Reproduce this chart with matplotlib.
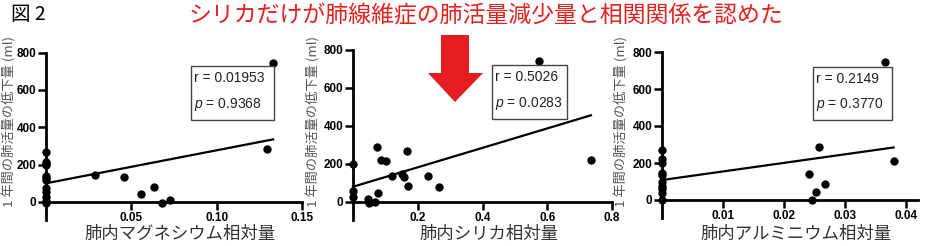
import matplotlib.pyplot as plt
from matplotlib.patches import Rectangle, Polygon

plt.rcParams['font.family'] = ['Liberation Sans', 'Noto Sans CJK JP']
plt.rcParams['mathtext.fontset'] = 'custom'
plt.rcParams['mathtext.rm'] = 'Liberation Sans'
plt.rcParams['mathtext.it'] = 'Liberation Sans:italic'

# data
mg_x = [0, 0, 0, 0, 0, 0, 0, 0, 0, 0, 0, 0,
        0.0285, 0.0455, 0.0556, 0.063, 0.0682, 0.0727, 0.1297, 0.1331]
mg_y = [265, 212, 205, 196, 138, 128, 118, 75, 55, 25, 8, -5,
        144, 135, 43, 82, -3, 11, 285, 745]
mg_fit = [100, 1767]   # intercept, slope

si_x = [0, 0, 0, 0.0475, 0.0506, 0.068, 0.0734, 0.0766, 0.0868, 0.102,
        0.121, 0.151, 0.158, 0.168, 0.170, 0.233, 0.267, 0.573, 0.735]
si_y = [199, 59, 28, 14, -7, 2, 286, 45, 220, 216,
        138, 145, 129, 267, 85, 138, 77, 742, 220]
si_fit = [80, 510]

al_x = [0, 0, 0, 0, 0, 0, 0, 0, 0, 0,
        0.0241, 0.0246, 0.0252, 0.0257, 0.0268, 0.0366, 0.0380]
al_y = [270, 220, 198, 144, 133, 97, 78, 60, 38, 0,
        139, 0, 45, 288, 86, 746, 212]
al_fit = [108, 4630]

mg_stats = ['r = 0.01953', '$p$ = 0.9368']
si_stats = ['r = 0.5026', '$p$ = 0.0283']
al_stats = ['r = 0.2149', '$p$ = 0.3770']

yticks = [0, 200, 400, 600, 800]
ylabel = '1 年間の肺活量の低下量 (ml)'
title = 'シリカだけが肺線維症の肺活量減少量と相関関係を認めた'

W, H = 931, 246
fig = plt.figure(figsize=(9.31, 2.46), dpi=100)


def fx(x):
    return x / W


def fy(y):
    return 1 - y / H


def panel(left, right, y800, y0, data_x, data_y, fit, xmax, xticks, xticklabels,
          xlabel, stats, box, ylab_x):
    """ one scatter panel, positions in pixels """
    ybot = -95
    ppu = (y0 - y800) / 800
    bot_px = y0 - ybot * ppu
    ax = fig.add_axes([fx(left), fy(bot_px), (right - left) / W, (bot_px - y800) / H])
    ax.set_xlim(0, xmax)
    ax.set_ylim(ybot, 800)

    ax.scatter(data_x, data_y, s=36, color='black', linewidths=0,
               clip_on=False, zorder=3)
    xs = [0, max(data_x)]
    ax.plot(xs, [fit[0] + fit[1] * v for v in xs], color='black', lw=1.6,
            clip_on=False, zorder=2)

    ax.spines['top'].set_visible(False)
    ax.spines['right'].set_visible(False)
    ax.spines['bottom'].set_position(('data', 0))
    for s in ['left', 'bottom']:
        ax.spines[s].set_linewidth(2)
    ax.spines['left'].set_bounds(ybot, 800)

    ax.set_xticks(xticks)
    ax.set_xticklabels(xticklabels)
    ax.set_yticks(yticks)
    ax.tick_params(length=6, width=1.8, labelsize=8.5, pad=1)
    for lab in ax.get_xticklabels() + ax.get_yticklabels():
        lab.set_fontweight('bold')

    # x label and y label
    fig.text(fx((left + right) / 2 + 6), fy(234), xlabel, fontsize=12.5,
             family='Noto Sans CJK JP', ha='center', va='center', color='#333333')
    fig.text(fx(ylab_x), fy(207), ylabel, fontsize=9.5, rotation=90,
             family='Noto Sans CJK JP', ha='center', va='bottom', color='#555555')

    # stats box
    bx0, by0, bx1, by1 = box
    fig.patches.append(Rectangle((fx(bx0), fy(by1)), (bx1 - bx0) / W, (by1 - by0) / H,
                                 transform=fig.transFigure, facecolor='white',
                                 edgecolor='#444444', lw=1.0, zorder=4))
    fig.text(fx(bx0 + 3), fy(by0 + 12), stats[0], fontsize=10, ha='left',
             va='center', color='#222222', zorder=5)
    fig.text(fx(bx0 + 3), fy(by0 + 38), stats[1], fontsize=10, ha='left',
             va='center', color='#222222', zorder=5)
    return ax


panel(46, 302, 52.5, 202, mg_x, mg_y, mg_fit, 0.15,
      [0.05, 0.10, 0.15], ['0.05', '0.10', '0.15'],
      '肺内マグネシウム相対量', mg_stats, (191, 66, 274, 120), 10)
panel(353, 612, 49.5, 202, si_x, si_y, si_fit, 0.8,
      [0.2, 0.4, 0.6, 0.8], ['0.2', '0.4', '0.6', '0.8'],
      '肺内シリカ相対量', si_stats, (492, 65, 567, 119), 314)
panel(662, 918, 52, 200, al_x, al_y, al_fit, 0.042,
      [0.01, 0.02, 0.03, 0.04], ['0.01', '0.02', '0.03', '0.04'],
      '肺内アルミニウム相対量', al_stats, (813, 67, 892, 120), 622)

# red arrow pointing at the silica panel
arrow_px = [(441, 35), (469, 35), (469, 73), (483, 73), (455, 102), (428, 73), (441, 73)]
fig.patches.append(Polygon([(fx(a), fy(b)) for a, b in arrow_px], closed=True,
                           transform=fig.transFigure, facecolor='#e51c20',
                           edgecolor='none', zorder=4))

# header band covers the top of the y labels
fig.patches.append(Rectangle((0, fy(33)), 1, 33 / H, transform=fig.transFigure,
                             facecolor='white', edgecolor='none', zorder=6))
fig.text(fx(11), fy(14), '図 2', fontsize=14, family='Noto Sans CJK JP',
         ha='left', va='center', color='black', zorder=7)
fig.text(fx(486), fy(16), title, fontsize=16.5, family='Noto Sans CJK JP',
         ha='center', va='center', color='#e5201d', zorder=7)

fig.savefig('out.png', dpi=100)
